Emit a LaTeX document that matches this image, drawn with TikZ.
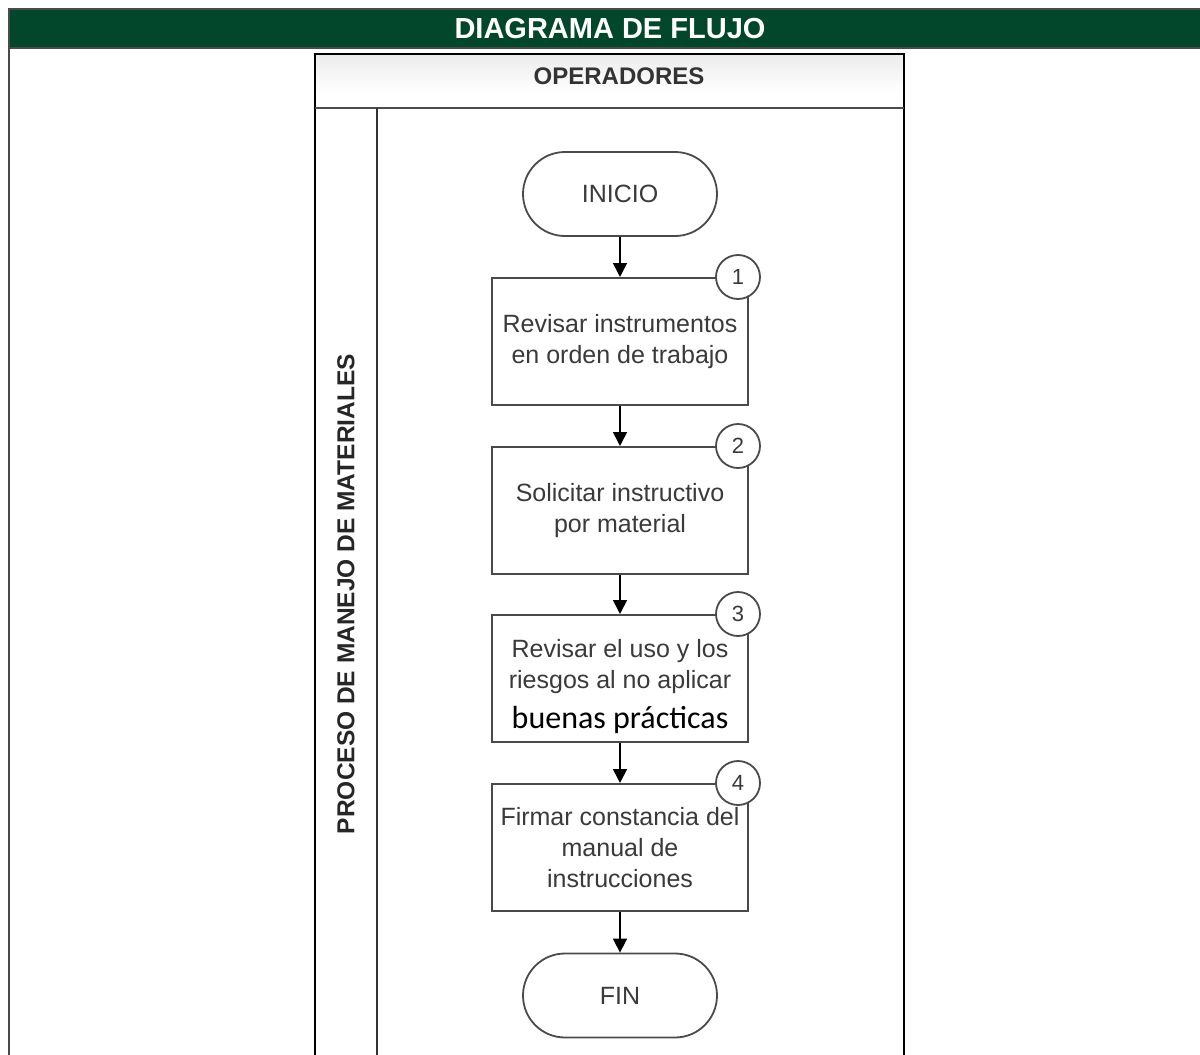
\documentclass[tikz,border=0pt]{standalone}
\usepackage{fontspec}
\setmainfont{Liberation Sans}
\newfontfamily\calibri{Carlito}
\usetikzlibrary{arrows.meta}
\usetikzlibrary{shapes}

\definecolor{verde}{HTML}{02472B}
\definecolor{borde}{HTML}{4A4A4A}
\definecolor{texto}{HTML}{3A3A3A}

\begin{document}
\begin{tikzpicture}[x=1pt,y=-1pt,
    every node/.style={font=\fontsize{25}{31}\selectfont, text=texto},
    paso/.style={draw=borde, line width=2pt, fill=white, minimum width=256pt, minimum height=127pt, inner sep=0pt, align=center},
    term/.style={draw=borde, line width=1.8pt, fill=white, rounded corners=42pt, minimum width=194pt, minimum height=84pt},
    num/.style={circle, draw=borde, line width=1.8pt, fill=white, minimum size=44pt, inner sep=0pt, font=\fontsize{22}{22}\selectfont},
    flecha/.style={-{Triangle[width=14pt,length=14pt]}, line width=1.6pt}]
    \useasboundingbox (0,0) rectangle (1200,1055);

    \draw[borde, line width=2pt, fill=verde] (9,9) rectangle (1210,48);
    \node[text=white, font=\bfseries\fontsize{29}{29}\selectfont] (titulo) at (610,28.5) {DIAGRAMA DE FLUJO};
    \draw[borde, line width=2.5pt] (9,48) -- (9,1056);

    \shade[top color=gray!15, bottom color=white] (315,54) rectangle (904,92);
    \draw[line width=2pt] (315,1056) -- (315,54) -- (904,54) -- (904,1056);
    \draw[line width=2pt, black!70] (315,108) -- (904,108);
    \draw[line width=2pt, black!80] (377,108) -- (377,1056);
    \node[font=\bfseries\fontsize{24}{24}\selectfont, text=black!80] (oper) at (619,76) {OPERADORES};
    \node[rotate=90, font=\bfseries\fontsize{24.5}{24.5}\selectfont, text=black!85] (proc) at (346,594) {PROCESO DE MANEJO DE MATERIALES};

    \node[term] (ini) at (620,194) {INICIO};
    \foreach \k/\y/\t in {1/341.5/{Revisar instrumentos\\en orden de trabajo},
                          2/510.5/{Solicitar instructivo\\por material},
                          3/678.5/{\rule{0pt}{35pt}Revisar el uso y los\\riesgos al no aplicar\\[9pt]{\calibri\fontsize{32}{38}\selectfont\color{black} buenas prácticas}},
                          4/847.5/{Firmar constancia del\\manual de\\instrucciones}} {
        \node[paso] (p\k) at (620,\y) {\t};
        \node[num, xshift=-11pt] (n\k) at (p\k.north east) {\k};
    }
    \node[term] (fin) at (620,995.5) {FIN};

    \foreach \a/\b in {ini/p1,p1/p2,p2/p3,p3/p4,p4/fin}
      \draw[flecha] (\a) -- (\b);
\end{tikzpicture}
\end{document}
